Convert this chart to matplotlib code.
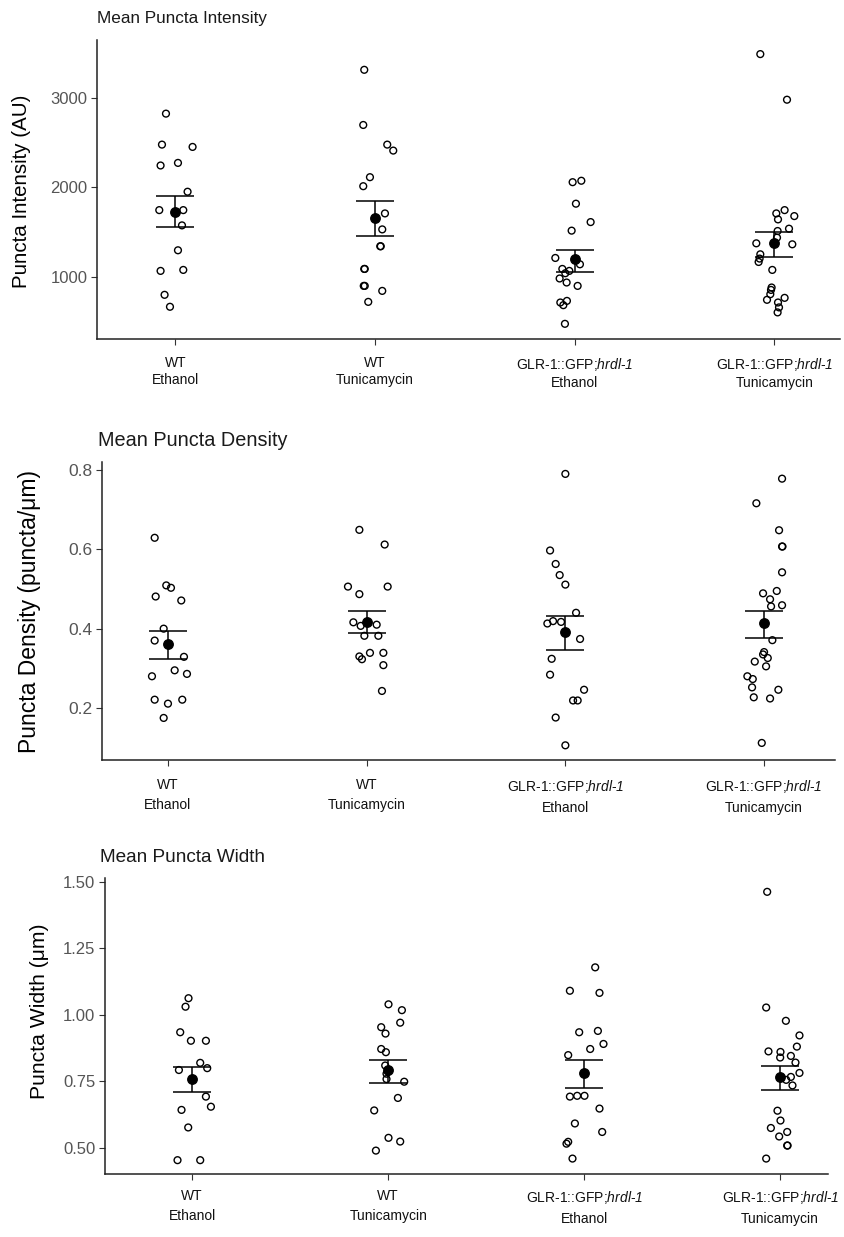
import numpy as np
import matplotlib.pyplot as plt

plt.rcParams['font.family'] = ['Liberation Sans', 'DejaVu Sans']
plt.rcParams['mathtext.fontset'] = 'custom'
plt.rcParams['mathtext.rm'] = 'Liberation Sans:italic'
plt.rcParams['mathtext.it'] = 'Liberation Sans:italic'

groups = ['WT\nEthanol', 'WT\nTunicamycin',
          'GLR-1::GFP;$hrdl$-$1$\nEthanol',
          'GLR-1::GFP;$hrdl$-$1$\nTunicamycin']

# mean puncta intensity (AU)
intensity_vals = [
    [2825, 2478, 2452, 2244, 2273, 1950, 1744, 1744, 1573, 1294, 1063, 1074, 795, 661],
    [3316, 2698, 2478, 2411, 2113, 2012, 1707, 1528, 1339, 1339, 1085, 1085, 895, 895, 839, 716],
    [2057, 2073, 1816, 1610, 1514, 1208, 1137, 1085, 1037, 1063, 978, 933, 895, 709, 727, 679, 470],
    [3492, 2981, 1744, 1707, 1640, 1677, 1536, 1510, 1436, 1372, 1361, 1249, 1201, 1163, 1074,
     877, 850, 802, 739, 761, 709, 654, 598],
]
intensity_jit = [
    [-9.3, -13.3, 17.3, -14.7, 2.7, 12.3, -16, 8, 6.7, 2.7, -14.7, 8, -10.7, -5.3],
    [-10.7, -11.7, 12.3, 18.3, -5, -11.7, 10, 7.3, 5.3, 5.8, -10.7, -10.2, -11.2, -10.2, 7.3, -6.7],
    [-2, 6.7, 1.3, 16, -3, -19.3, 5.3, -12.3, -9.3, -5.3, -15, -8, 3, -14.3, -7.7, -11.3, -9.7],
    [-14, 12.7, 10.3, 2, 3.7, 20, 14.7, 3.3, 2.7, -18, 18, -14, -14.7, -15.7, -2, -2.7, -3.3,
     -4, -7.3, 10.3, 3.7, 4.7, 3.3],
]
intensity_mean = [1722, 1659, 1193, 1372]
intensity_hi = [1900, 1841, 1297, 1498]
intensity_lo = [1554, 1454, 1056, 1219]

# mean puncta density (puncta/um)
density_vals = [
    [.629, .509, .503, .481, .471, .400, .370, .329, .295, .286, .280, .221, .211, .221, .175],
    [.649, .612, .506, .506, .487, .416, .407, .410, .382, .382, .330, .323, .339, .339, .308, .243],
    [.790, .597, .563, .535, .511, .440, .419, .413, .417, .374, .324, .284, .246, .219, .219, .176, .106],
    [.778, .716, .648, .607, .607, .542, .489, .495, .474, .456, .459, .371, .341, .335, .326, .317,
     .305, .280, .273, .252, .246, .227, .224, .112],
]
density_jit = [
    [-13.3, -1.7, 3, -12.3, 13.3, -4.3, -13.3, 16, 6.7, 19, -16, -13.3, 0, 14.3, -4.3],
    [-7.3, 18, -18.7, 21, -7.3, -13.3, -6, 10, -2.3, 11.7, -7.3, -4.7, 3.3, 16.7, 16.7, 15.3],
    [0, -15.3, -9.7, -5.7, 0, 10.7, -12.3, -18, -4.3, 14.7, -13.7, -15.3, 18.7, 7.7, 12.3, -9.7, 0],
    [18, -7.7, 15, 18, 18.4, 18, -1, 12.7, 6, 7, 18, 8.3, 0, -1, 3.7, -9.3, 2, -16.7, -11.3, -12,
     14.3, -10.3, 6, -2.3],
]
density_mean = [.361, .418, .391, .413]
density_hi = [.394, .444, .433, .445]
density_lo = [.323, .388, .345, .377]

# mean puncta width (um)
width_vals = [
    [1.063, 1.031, .935, .903, .903, .820, .793, .800, .693, .655, .643, .577, .454, .454],
    [1.040, 1.018, .971, .954, .930, .872, .860, .810, .779, .759, .749, .688, .641, .538, .524, .490],
    [1.179, 1.091, 1.083, .935, .940, .891, .872, .849, .693, .696, .696, .648, .592, .560, .516, .523, .460],
    [1.463, 1.028, .978, .923, .881, .863, .861, .840, .846, .821, .782, .756, .767, .735, .640, .603,
     .575, .560, .543, .509, .509, .460],
]
width_jit = [
    [-3.7, -6.7, -12, -1.3, 13.7, 8, -13.3, 15, 13.7, 18.7, -10.7, -4, -14.7, 8],
    [0.3, 13.7, 12, -7, -2.7, -7, -2.3, -3, -1.7, -1.7, 16, 9.7, -14, 0.3, 12, -12.3],
    [11, -14.3, 15.3, -5, 13.7, 19.3, 6, -16, -14.3, -7, 0.3, 15.3, -9.3, 18, -17.7, -16, -11.7],
    [-13, -14, 5.7, 19.3, 16.7, -11.7, 0.3, 0, 10.7, 15.3, 19.3, 6, 10.7, 12.3, -2.7, 0.3, -9.3,
     7, -1, 7, 7.4, -14],
]
width_mean = [.761, .794, .783, .767]
width_hi = [.806, .829, .830, .808]
width_lo = [.712, .744, .725, .716]

W, H = 845, 1237
fig = plt.figure(figsize=(W / 100, H / 100), dpi=100)

panels = [
    dict(title='Mean Puncta Intensity', ylabel='Puncta Intensity (AU)',
         vals=intensity_vals, jit=intensity_jit, mean=intensity_mean, lo=intensity_lo, hi=intensity_hi,
         yticks=[1000, 2000, 3000], fmt='{:.0f}', ylim=(300, 3650), xlim=(0.608, 4.329),
         box=(97, 40, 840, 339), title_x=97, title_y=18, title_size=12.3,
         ylab_x=22, ylab_y=191, ylab_size=14.8, ytick_size=12, xlab_space=1.3, xpad=8, px=199.7),
    dict(title='Mean Puncta Density', ylabel='Puncta Density (puncta/μm)',
         vals=density_vals, jit=density_jit, mean=density_mean, lo=density_lo, hi=density_hi,
         yticks=[0.2, 0.4, 0.6, 0.8], fmt='{:.1f}', ylim=(0.069, 0.82), xlim=(0.668, 4.357),
         box=(102, 462, 835, 760), title_x=98, title_y=440, title_size=14.3,
         ylab_x=30, ylab_y=611, ylab_size=16.5, ytick_size=12.5, xlab_space=1.55, xpad=9, px=198.7),
    dict(title='Mean Puncta Width', ylabel='Puncta Width (μm)',
         vals=width_vals, jit=width_jit, mean=width_mean, lo=width_lo, hi=width_hi,
         yticks=[0.5, 0.75, 1.0, 1.25, 1.5], fmt='{:.2f}', ylim=(0.402, 1.515), xlim=(0.555, 4.244),
         box=(105, 878, 828, 1174), title_x=100, title_y=857, title_size=13.7,
         ylab_x=40, ylab_y=1011, ylab_size=15.2, ytick_size=12, xlab_space=1.5, xpad=7, px=196.0),
]

for p in panels:
    x0, y0, x1, y1 = p['box']
    ax = fig.add_axes([x0 / W, 1 - y1 / H, (x1 - x0) / W, (y1 - y0) / H])
    for i in range(4):
        xs = i + 1 + np.array(p['jit'][i]) / p['px']
        ax.scatter(xs, p['vals'][i], s=24, facecolors='none', edgecolors='black',
                   linewidths=1.0, zorder=2)
        m = p['mean'][i]
        ax.errorbar(i + 1, m, yerr=[[m - p['lo'][i]], [p['hi'][i] - m]], fmt='o',
                    color='black', ms=6.8, capsize=14, elinewidth=1.1, capthick=1.1, zorder=3)
    ax.set_xlim(*p['xlim'])
    ax.set_ylim(*p['ylim'])
    ax.set_xticks([1, 2, 3, 4], groups)
    ax.set_yticks(p['yticks'], [p['fmt'].format(v) for v in p['yticks']])
    for lab in ax.get_xticklabels():
        lab.set_linespacing(p['xlab_space'])
    for s in ['top', 'right']:
        ax.spines[s].set_visible(False)
    for s in ['left', 'bottom']:
        ax.spines[s].set_linewidth(1.1)
        ax.spines[s].set_color('#222222')
    ax.tick_params(axis='y', labelsize=p['ytick_size'], colors='#333333', labelcolor='#555555',
                   length=4, pad=3)
    ax.tick_params(axis='x', labelsize=10, colors='#333333', labelcolor='#111111', length=4,
                   pad=p['xpad'])
    fig.text(p['title_x'] / W, 1 - p['title_y'] / H, p['title'], fontsize=p['title_size'],
             color='#1a1a1a', ha='left', va='center')
    fig.text(p['ylab_x'] / W, 1 - p['ylab_y'] / H, p['ylabel'], fontsize=p['ylab_size'],
             rotation=90, ha='center', va='center')

fig.savefig('out.png', dpi=100)
